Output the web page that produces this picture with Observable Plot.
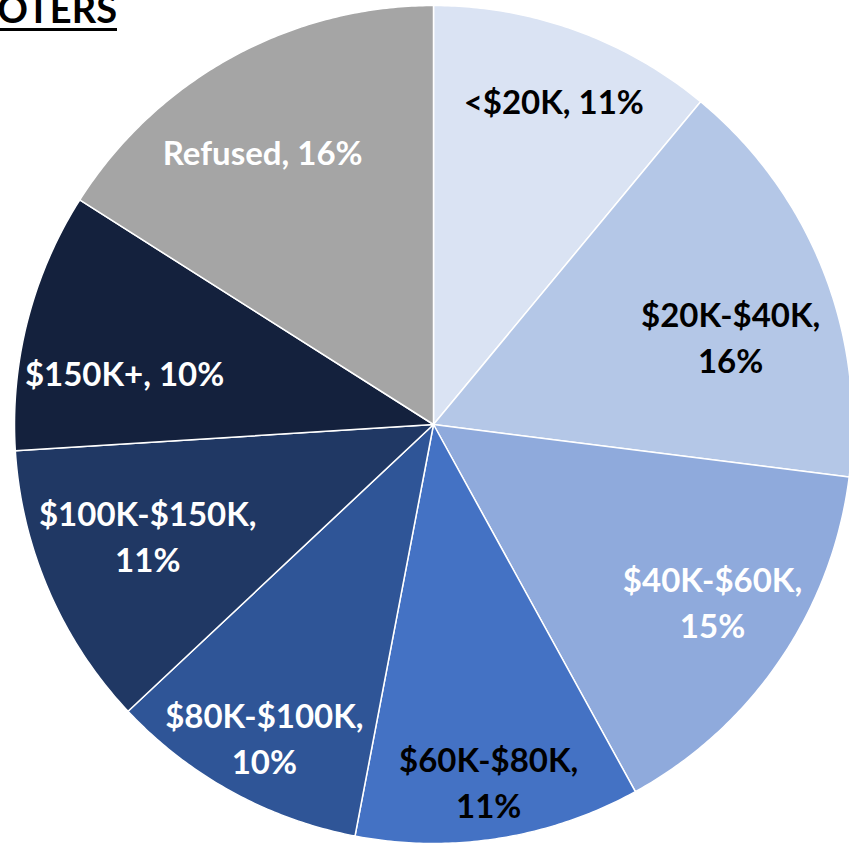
<!DOCTYPE html>
<html><head><meta charset="utf-8">
<script src="https://cdn.jsdelivr.net/npm/d3@7"></script>
<script src="https://cdn.jsdelivr.net/npm/@observablehq/plot@0.6"></script>
<style>
html,body{margin:0;padding:0;background:#fff;overflow:hidden}
#wrap{position:relative;width:849px;height:844px;overflow:hidden}
#title{position:absolute;right:732px;top:-11px;font-family:Lato,sans-serif;font-weight:bold;font-size:38px;line-height:38px;white-space:nowrap;text-decoration:underline;text-decoration-thickness:3px;text-underline-offset:5px;color:#000;z-index:2}
#chart{position:absolute;left:0;top:0}
</style></head>
<body><div id="wrap"><div id="title">VOTERS</div><div id="chart"></div></div>
<script>
// ---- data ----
const categories = ["<$20K", "$20K-$40K", "$40K-$60K", "$60K-$80K", "$80K-$100K", "$100K-$150K", "$150K+", "Refused"];
const shares = [11, 16, 15, 11, 10, 11, 10, 16];

// ---- style / layout ----
const sliceColors = ["#DAE3F3", "#B4C7E7", "#8FAADC", "#4472C4", "#2F5597", "#203864", "#14213D", "#A5A5A5"];
const darkLabel = new Set(["<$20K", "$20K-$40K", "$60K-$80K"]);
const twoLine = new Set(["$20K-$40K", "$40K-$60K", "$60K-$80K", "$80K-$100K", "$100K-$150K"]);
// label placement: radius fraction and angular nudge (degrees) relative to slice mid-angle
const labelPlace = {
  "<$20K": [0.816, 0.8], "$20K-$40K": [0.737, 5.8], "$40K-$60K": [0.794, -1.2],
  "$60K-$80K": [0.871, 0.3], "$80K-$100K": [0.857, -0.7], "$100K-$150K": [0.735, 1.5],
  "$150K+": [0.746, -5.6], "Refused": [0.761, -3.6]
};

const W = 849, H = 844, CX = 433, CY = 424, R = 419;

const rows = categories.map((c, i) => ({cat: c, share: shares[i]}));
const arcs = d3.pie().sort(null).value(d => d.share)(rows);

const pts = [];
for (const a of arcs) {
  pts.push({cat: a.data.cat, x: 0, y: 0});
  const n = Math.max(2, Math.ceil((a.endAngle - a.startAngle) / (Math.PI / 360)));
  for (let k = 0; k <= n; k++) {
    const t = a.startAngle + (a.endAngle - a.startAngle) * k / n;
    pts.push({cat: a.data.cat, x: Math.sin(t), y: Math.cos(t)});
  }
}

const labels = arcs.map(a => {
  const c = a.data.cat;
  const [rf, da] = labelPlace[c];
  const t = (a.startAngle + a.endAngle) / 2 + da * Math.PI / 180;
  return {
    cat: c,
    x: rf * Math.sin(t), y: rf * Math.cos(t),
    text: twoLine.has(c) ? `${c},\n${a.data.share}%` : `${c}, ${a.data.share}%`
  };
});

const textOpts = {x: "x", y: "y", text: "text", fontFamily: "Lato, sans-serif", fontWeight: "bold", fontSize: 33, lineHeight: 1.39, textAnchor: "middle", dy: -5};

const chart = Plot.plot({
  width: W, height: H, margin: 0,
  x: {domain: [-CX / R, (W - CX) / R], axis: null},
  y: {domain: [-(H - CY) / R, CY / R], axis: null},
  color: {domain: categories, range: sliceColors},
  marks: [
    Plot.line(pts, {x: "x", y: "y", z: "cat", fill: "cat", stroke: "white", strokeWidth: 1.5, curve: "linear-closed"}),
    Plot.text(labels.filter(d => darkLabel.has(d.cat)), {...textOpts, fill: "#000"}),
    Plot.text(labels.filter(d => !darkLabel.has(d.cat)), {...textOpts, fill: "#fff"})
  ]
});
document.getElementById("chart").appendChild(chart);
</script>
</body></html>
